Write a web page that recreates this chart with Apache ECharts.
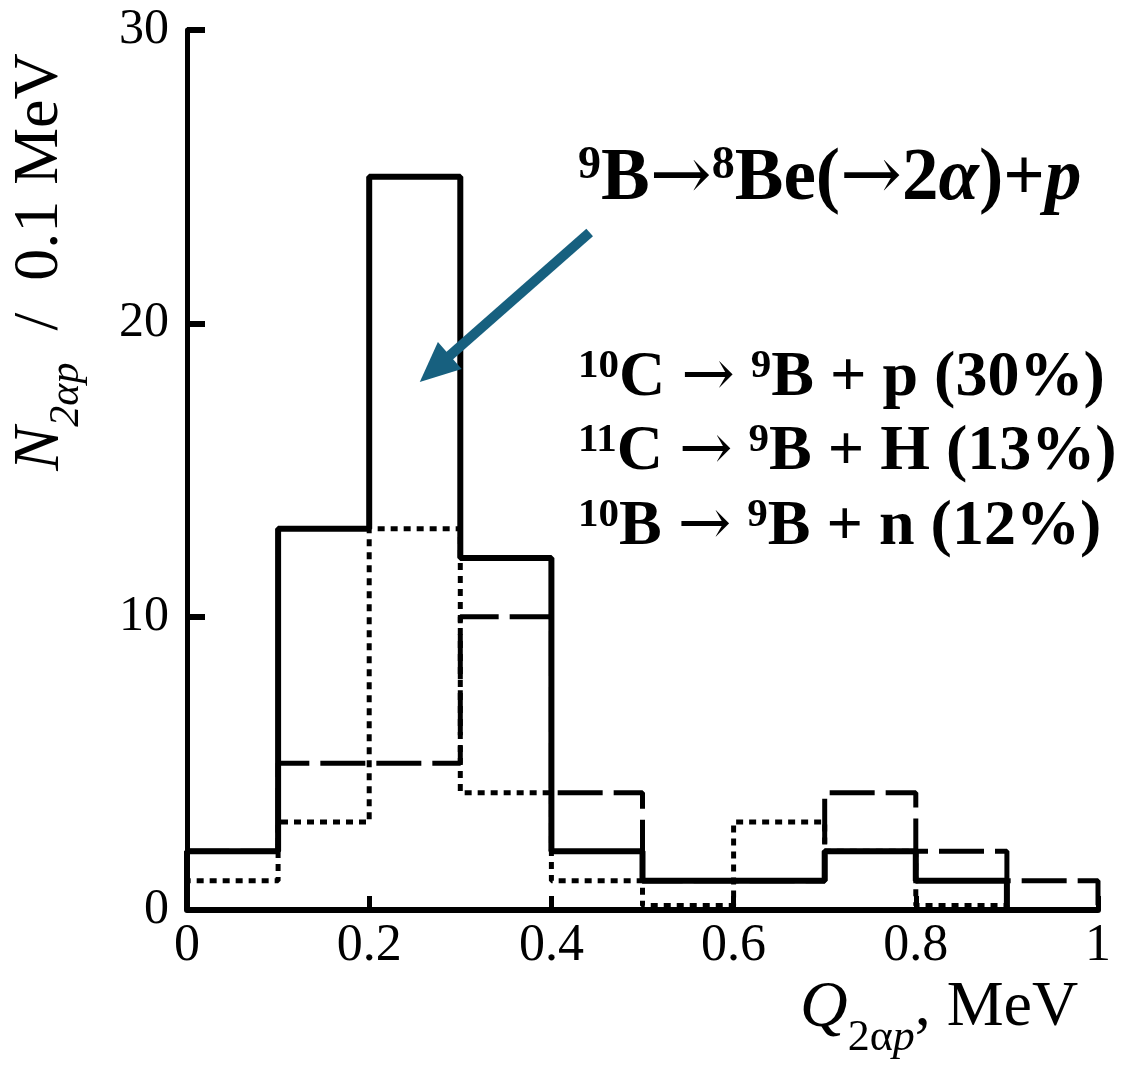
<!DOCTYPE html>
<html>
<head>
<meta charset="utf-8">
<script src="https://cdn.jsdelivr.net/npm/echarts@6/dist/echarts.min.js"></script>
<style>
html,body{margin:0;padding:0;background:#fff;}
#chart{width:1134px;height:1065px;}
</style>
</head>
<body>
<div id="chart"></div>
<script>
// Bin edges (Q_2αp, MeV)
const binEdges = [0, 0.1, 0.2, 0.3, 0.4, 0.5, 0.6, 0.7, 0.8, 0.9, 1.0];
// Counts per 0.1 MeV bin
const solidCounts  = [2, 13, 25, 12, 2, 1, 1, 2, 1, 0];
const dashedCounts = [2, 5, 5, 10, 4, 1, 1, 4, 2, 1];
const dottedCounts = [1, 3, 13, 4, 1, 0.15, 3, 2, 0.15, 0];
// Axis ticks
const xTicks = [0, 0.2, 0.4, 0.6, 0.8, 1];
const yTicks = [0, 10, 20, 30];
// Annotation arrow (data coords): from -> to
const arrowFrom = [0.442, 23.1];
const arrowTo = [0.272, 18.45];

function histPoints(counts) {
  const pts = [[binEdges[0], 0]];
  for (let i = 0; i < counts.length; i++) pts.push([binEdges[i], counts[i]]);
  const last = binEdges[binEdges.length - 1];
  pts.push([last, counts[counts.length - 1]]);
  pts.push([last, 0]);
  return pts;
}

const FONT = '"Liberation Serif", "Times New Roman", serif';
const ARR = '"DejaVu Serif", serif';
const chart = echarts.init(document.getElementById('chart'));

function reactionStyle() {
  return {
    b: { fontFamily: FONT, fontSize: 64, fontWeight: 'bold', fill: '#000' },
    a: { fontFamily: ARR, fontSize: 64, fill: '#000' },
    sup: { fontFamily: FONT, fontSize: 41, fontWeight: 'bold', fill: '#000', verticalAlign: 'top', padding: [0, 0, 24, 0] }
  };
}

const option = {
  backgroundColor: '#fff',
  animation: false,
  grid: { left: 187, right: 36, top: 30, bottom: 155, containLabel: false },
  xAxis: {
    type: 'value', min: 0, max: 1, interval: 0.2,
    axisLine: { show: true, onZero: false, lineStyle: { color: '#000', width: 6 } },
    axisTick: { show: true, inside: true, length: 14, lineStyle: { color: '#000', width: 5 } },
    splitLine: { show: false },
    axisLabel: { color: '#000', fontFamily: FONT, fontSize: 52, margin: 10,
      formatter: v => String(+v.toFixed(1)) }
  },
  yAxis: {
    type: 'value', min: 0, max: 30, interval: 10,
    axisLine: { show: true, lineStyle: { color: '#000', width: 5 } },
    axisTick: { show: true, inside: true, length: 18, lineStyle: { color: '#000', width: 6 } },
    splitLine: { show: false },
    axisLabel: { color: '#000', fontFamily: FONT, fontSize: 50, margin: 18 }
  },
  series: [
    {
      type: 'line', step: 'end', symbol: 'none', z: 2,
      data: histPoints(dottedCounts),
      lineStyle: { color: '#000', width: 5, type: [7, 6] }
    },
    {
      type: 'line', step: 'end', symbol: 'none', z: 3,
      data: histPoints(dashedCounts),
      lineStyle: { color: '#000', width: 5, type: [45, 11] }
    },
    {
      type: 'line', step: 'end', symbol: 'none', z: 4,
      data: histPoints(solidCounts),
      lineStyle: { color: '#000', width: 6, type: 'solid' },
      markLine: {
        silent: true,
        symbol: ['none', 'triangle'],
        symbolSize: [36, 40],
        label: { show: false },
        itemStyle: { color: '#17607f' },
        lineStyle: { color: '#17607f', width: 10, type: 'solid', opacity: 1 },
        emphasis: { disabled: true },
        data: [[{ coord: arrowFrom }, { coord: arrowTo }]]
      }
    }
  ],
  graphic: [
    {
      type: 'text', x: 48, y: 262, rotation: Math.PI / 2,
      style: {
        text: '{i|N}{sub|2αp}{n|  /  0.1 MeV}',
        align: 'center', verticalAlign: 'middle',
        rich: {
          i: { fontFamily: FONT, fontSize: 66, fontStyle: 'italic', fill: '#000', verticalAlign: 'top', padding: [0, 0, 14, 0] },
          sub: { fontFamily: FONT, fontSize: 42, fontStyle: 'italic', fill: '#000', verticalAlign: 'bottom' },
          n: { fontFamily: FONT, fontSize: 64, fill: '#000', verticalAlign: 'top', padding: [0, 0, 14, 0] }
        }
      }
    },
    {
      type: 'text', x: 800, y: 1018,
      style: {
        text: '{i|Q}{sub|2α}{subi|p}{n|, MeV}',
        align: 'left', verticalAlign: 'middle',
        rich: {
          i: { fontFamily: FONT, fontSize: 66, fontStyle: 'italic', fill: '#000', verticalAlign: 'top', padding: [0, 0, 18, 0] },
          sub: { fontFamily: FONT, fontSize: 44, fill: '#000', verticalAlign: 'bottom' },
          subi: { fontFamily: FONT, fontSize: 44, fontStyle: 'italic', fill: '#000', verticalAlign: 'bottom' },
          n: { fontFamily: FONT, fontSize: 64, fill: '#000', verticalAlign: 'top', padding: [0, 0, 18, 0] }
        }
      }
    },
    {
      type: 'text', x: 578, y: 180,
      style: {
        text: '{sup|9}{b|B}{a|→}{sup|8}{b|Be(}{a|→}{b|2}{bi|α}{b|)+}{bi|p}',
        align: 'left', verticalAlign: 'middle',
        rich: {
          b: { fontFamily: FONT, fontSize: 73, fontWeight: 'bold', fill: '#000' },
          bi: { fontFamily: FONT, fontSize: 73, fontWeight: 'bold', fontStyle: 'italic', fill: '#000' },
          a: { fontFamily: ARR, fontSize: 74, fill: '#000' },
          sup: { fontFamily: FONT, fontSize: 46, fontWeight: 'bold', fill: '#000', verticalAlign: 'top', padding: [0, 0, 28, 0] }
        }
      }
    },
    {
      type: 'text', x: 578, y: 378,
      style: {
        text: '{sup|10}{b|C }{a|→}{b| }{sup|9}{b|B + p (30%)}',
        align: 'left', verticalAlign: 'middle',
        rich: reactionStyle()
      }
    },
    {
      type: 'text', x: 578, y: 452,
      style: {
        text: '{sup|11}{b|C }{a|→}{b| }{sup|9}{b|B + H (13%)}',
        align: 'left', verticalAlign: 'middle',
        rich: reactionStyle()
      }
    },
    {
      type: 'text', x: 578, y: 527,
      style: {
        text: '{sup|10}{b|B }{a|→}{b| }{sup|9}{b|B + n (12%)}',
        align: 'left', verticalAlign: 'middle',
        rich: reactionStyle()
      }
    }
  ]
};
chart.setOption(option);
</script>
</body>
</html>
